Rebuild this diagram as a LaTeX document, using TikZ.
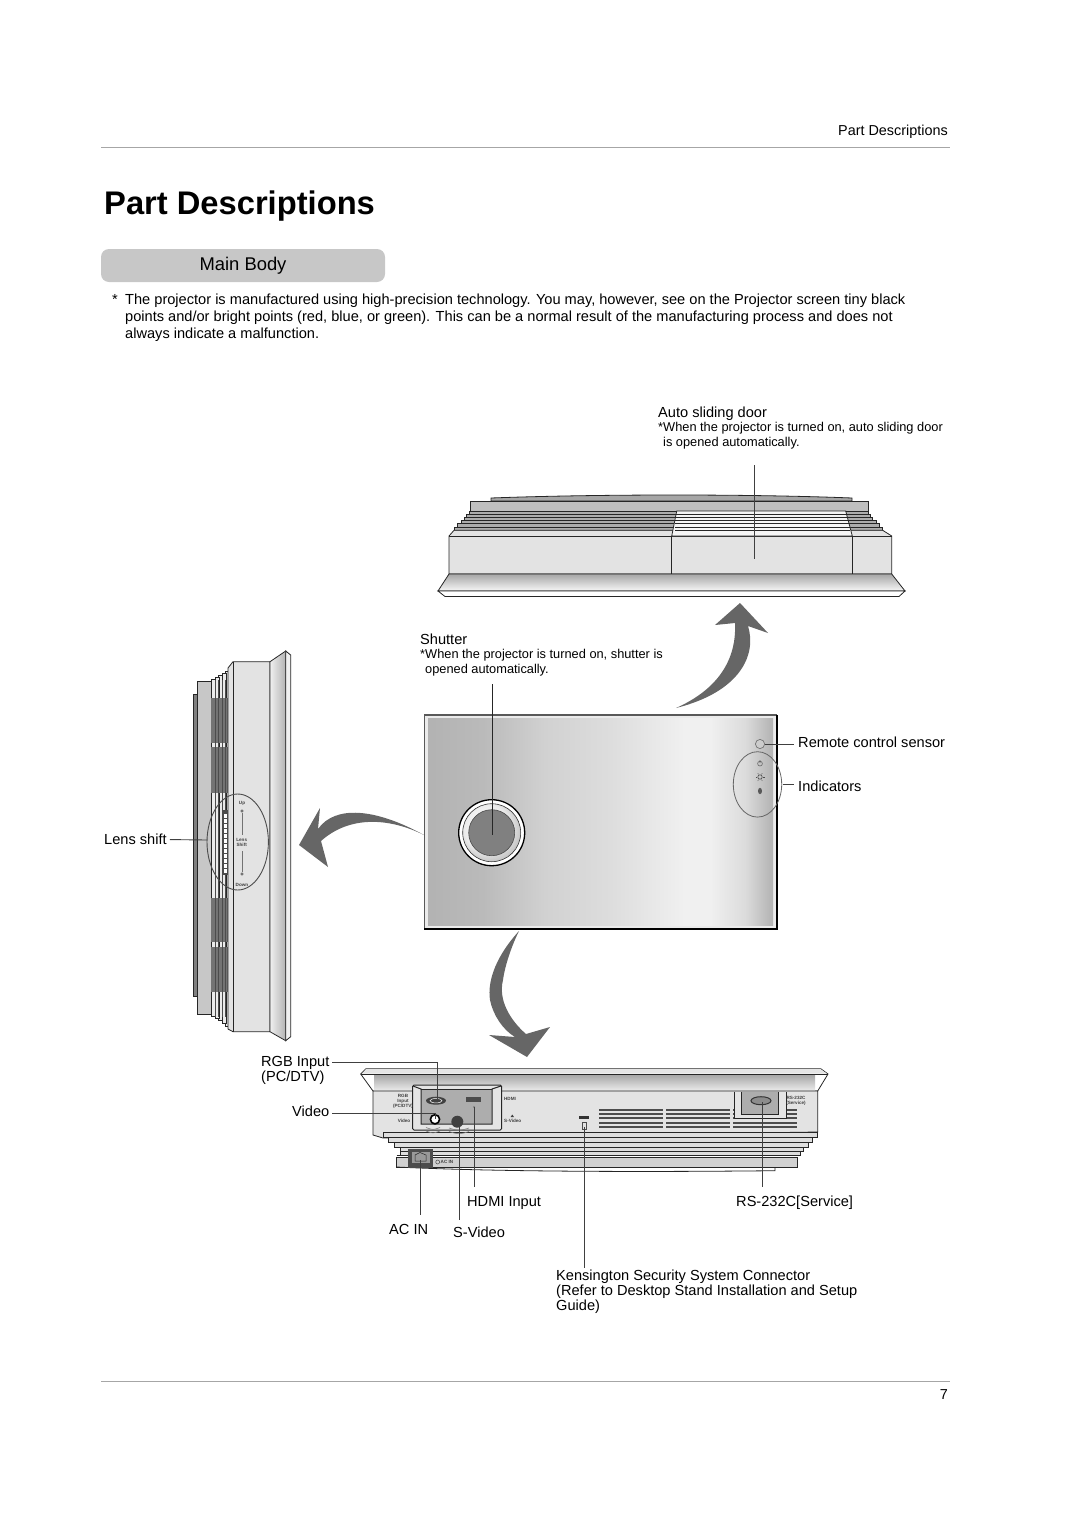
\documentclass[tikz,border=0pt]{standalone}
\usepackage{fontspec}
\setmainfont{Liberation Sans}
\usetikzlibrary{positioning}
\pgfdeclarehorizontalshading{panelshade}{100bp}{color(0bp)=(black!30); color(25bp)=(black!30); color(33bp)=(black!27); color(42bp)=(black!18); color(52bp)=(black!13); color(62bp)=(black!6); color(66bp)=(black!6); color(71bp)=(black!14); color(75bp)=(black!30); color(100bp)=(black!30)}
\pgfdeclareradialshading{lensshade}{\pgfpoint{-8bp}{8bp}}{color(0bp)=(white); color(20bp)=(black!8); color(30bp)=(black!25); color(50bp)=(black!35)}

\begin{document}
\begin{tikzpicture}[x=1pt, y=-1pt,
        label/.style={anchor=north west, inner sep=0pt, align=left, font=\fontsize{14.6}{15}\selectfont},
        note/.style={anchor=north west, inner sep=0pt, align=left, font=\fontsize{12.8}{15}\selectfont},
        tiny/.style={inner sep=0pt, align=center, text=black!75, font=\fontsize{4.6}{5}\selectfont\bfseries},
        part/.style={draw=black!85, line width=0.8pt},
        leader/.style={draw=black!75, line width=0.9pt},
        rulerline/.style={draw=black!35, line width=0.9pt},
        turn/.style={fill=black!60, draw=none},
        vent/.style={draw=black!70, line width=2.2pt},
        port/.style={draw=black!80, fill=black!55, line width=1pt}
    ]
        \useasboundingbox (0,0) rectangle (1080,1528);

        % Page head and foot
        \node[anchor=base east, inner sep=0pt, font=\fontsize{14.4}{15}\selectfont] (headtext) at (948,135) {Part Descriptions};
        \coordinate (headleft) at (101,147);
        \coordinate (headright) at (950,147);
        \draw[rulerline] (headleft) -- (headright);
        \node[anchor=base west, inner sep=0pt, font=\fontsize{32.7}{34}\selectfont\bfseries] (title) at (104,214) {Part Descriptions};
        \node[fill=black!22, rounded corners=8pt, minimum width=284pt, minimum height=33pt, inner sep=0pt, font=\fontsize{18.4}{19}\selectfont] (mainbody) at (243,265.5) {Main Body};
        \coordinate (footleft) at (101,1381);
        \coordinate (footright) at (950,1381);
        \draw[rulerline] (footleft) -- (footright);
        \node[anchor=base east, inner sep=0pt, font=\fontsize{14.4}{15}\selectfont] (pagenum) at (948,1399) {7};

        % Remark
        \node[anchor=base west, inner sep=0pt, font=\fontsize{14.6}{15}\selectfont] (star) at (112,304) {*};
        \node[label, font=\fontsize{14.6}{17}\selectfont] (remark) at (125,293.5) {The projector is manufactured using high-precision technology. You may, however, see on the Projector screen tiny black\\points and/or bright points (red, blue, or green). This can be a normal result of the manufacturing process and does not\\always indicate a malfunction.};

        % Top view
        \node[label] (lbldoor) at (658,407) {Auto sliding door};
        \node[note] (notedoor) at (658,422.5) {*When the projector is turned on, auto sliding door\\\hspace{5pt}is opened automatically.};
        \draw[part, fill=black!35] (491,501) -- (491,498) .. controls (600,494) and (750,494) .. (852,498) -- (852,501) -- cycle;
        \draw[part, fill=black!25] (470,501.5) rectangle (868,511);
        \foreach \xa/\xb/\ya/\yb in {454/882.7/527/530.3, 457/879.3/523.7/527, 461/876.7/520/523.7, 464/872.7/517/520, 466/870.7/514/517, 469/868/511/514} {
            \draw[draw=black!85, line width=0.6pt, fill=black!32] (\xa,\ya) rectangle (\xb,\yb);
        }
        \draw[part, fill=black!11] (449,574) -- (449,536) -- (454,530.3) -- (882.7,530.3) -- (891.7,536) -- (891.7,574) -- cycle;
        \draw[part] (449,536) -- (891.7,536);
        \draw[part, fill=black!4] (671.7,536) -- (676.7,511) -- (845.7,511) -- (852.3,536) -- cycle;
        \foreach \ya in {514, 517, 520, 523.7, 527, 530.3} {
            \draw[part] (675,\ya) -- (850,\ya);
        }
        \draw[part] (671.7,536) -- (671.7,574) (852.3,536) -- (852.3,574);
        \draw[part, top color=black!35, bottom color=black!3] (449,574) -- (891.7,574) -- (905,591) -- (438,591) -- cycle;
        \draw[part, fill=white] (438,591) -- (905,591) -- (899,596.5) -- (445,596.5) -- cycle;
        \coordinate (doortop) at (754,465);
        \coordinate (doorend) at (754,559);
        \draw[leader] (doortop) -- (doorend);

        % Turn arrows
        \fill[turn] (740,603) -- (768,633) -- (748,626) .. controls (757,655) and (740,692) .. (676,708) .. controls (712,692) and (737,665) .. (735,623) -- (715,625) -- cycle;
        \fill[turn] (299,845) -- (320,808) -- (318,829) .. controls (335,805) and (375,808) .. (424,835) .. controls (390,818) and (350,815) .. (321,841) -- (328,867) -- cycle;
        \fill[turn] (519,931) .. controls (497,955) and (487,980) .. (490,1000) .. controls (493,1015) and (503,1030) .. (515,1037) -- (489,1035) -- (527,1057) -- (550,1027) -- (526,1034) .. controls (510,1020) and (498,1000) .. (503,980) .. controls (505,965) and (512,945) .. (519,931) -- cycle;

        % Front panel
        \node[label] (lblshutter) at (420,634) {Shutter};
        \node[note] (noteshutter) at (420,649.5) {*When the projector is turned on, shutter is\\\hspace{5pt}opened automatically.};
        \fill[black!8] (424.3,715) rectangle (776.7,928.7);
        \draw[draw=black!65, line width=1.6pt] (424.3,928.7) -- (424.3,715) -- (776.7,715);
        \draw[draw=black, line width=1.8pt] (776.7,715) -- (776.7,928.7) -- (424.3,928.7);
        \fill[shading=panelshade] (428,718) rectangle (773,925);
        \fill[white] (491.7,832.7) circle (33);
        \draw[draw=black, line width=1.3pt] (491.7,832.7) circle (33);
        \draw[draw=black!80, line width=0.6pt, shading=lensshade] (491.7,832.7) circle (29);
        \draw[draw=black!70, line width=0.6pt, fill=black!50] (491.7,832.7) circle (23);
        \coordinate (shuttertop) at (492.5,684);
        \coordinate (shutterend) at (492.5,835);
        \draw[leader, draw=black!85] (shuttertop) -- (shutterend);

        % Sensor and indicators
        \draw[draw=black!55, fill=black!20, line width=0.7pt] (760,744) circle (4.6);
        \draw[draw=black!60, line width=0.8pt] (757.5,784.4) ellipse (24.2 and 32.7);
        \draw[draw=black!60, line width=0.6pt] (760,763.6) circle (2.4) (760,760) -- (760,763);
        \draw[draw=black!70, line width=0.6pt] (760,777) circle (2.2);
        \foreach \ang in {0,60,...,300} {
            \draw[draw=black!70, line width=0.4pt] (760,777) ++(\ang:3) -- ++(\ang:1.5);
        }
        \fill[black!65] (760,791) ellipse (2 and 3.2);
        \node[label] (lblsensor) at (798,737) {Remote control sensor};
        \node[label] (lblindic) at (798,781) {Indicators};
        \coordinate (sensorpt) at (765,744.3);
        \coordinate (sensorend) at (794,744.3);
        \coordinate (indicpt) at (782.7,784.3);
        \coordinate (indicend) at (793.5,784.3);
        \draw[leader] (sensorpt) -- (sensorend);
        \draw[leader] (indicpt) -- (indicend);

        % Side view
        \draw[part, fill=black!50] (193,694) rectangle (197,996);
        \draw[part, fill=black!22] (197,681) rectangle (211,1014);
        \foreach \xa/\ya/\yb in {228/668/1029, 225/671/1026, 222/673/1023, 218/675/1020, 215/677/1018, 211/679/1016} {
            \draw[part, fill=black!8] (\xa,\ya) rectangle (\xa+4,\yb);
        }
        \foreach \ya/\yb in {698/743, 747/793, 898/942, 947/992} {
            \fill[black!55] (211,\ya) rectangle (229,\yb);
        }
        \foreach \xa in {215, 218, 222, 225, 228} {
            \draw[draw=black!70, line width=0.6pt] (\xa,680) -- (\xa,1017);
        }
        \draw[part, fill=black!11] (233,661.7) -- (270,661.7) -- (270,1031.7) -- (233,1031.7) -- (228,1029) -- (228,668) -- cycle;
        \draw[part] (233,661.7) -- (233,1031.7);
        \draw[part, left color=black!6, right color=black!30] (270,661.7) -- (285.7,651) -- (285.7,1040.7) -- (270,1031.7) -- cycle;
        \draw[part, fill=black!6] (285.7,651) -- (290.7,655) -- (290.7,1036.7) -- (285.7,1040.7) -- cycle;

        % Lens shift dial
        \fill[black!70] (221.7,810) rectangle (228,875);
        \foreach \ya in {813,818,...,868} {
            \draw[draw=black!70, fill=white, line width=0.4pt] (222.7,\ya) rectangle (227,\ya+5);
        }
        \draw[draw=black!70, line width=0.9pt] (237.7,842) ellipse (30.7 and 48);
        \node[tiny] (tinyup) at (242,803) {Up};
        \node[tiny] (tinylens) at (241.7,842.7) {Lens\\Shift};
        \node[tiny] (tinydown) at (242,885) {Down};
        \draw[draw=black!70, line width=0.5pt] (242,811) circle (1.2) (242,874) circle (1.2);
        \draw[draw=black!55, line width=0.6pt] (242,813) -- (242,835) (242,851) -- (242,872);
        \node[label] (lbllens) at (104,834) {Lens shift};
        \coordinate (lensend) at (207,840);
        \draw[leader] ([xshift=3pt]lbllens.east) -- (lensend);

        % Rear view, housing
        \draw[part, fill=white] (366,1068.7) -- (820.7,1068.7) -- (828,1074) -- (817.7,1091) -- (373,1091) -- (360.7,1074) -- cycle;
        \fill[black!10] (366,1069.2) -- (820.7,1069.2) -- (827,1073.6) -- (361.7,1073.6) -- cycle;
        \fill[top color=black!35, bottom color=black!8] (374,1074.5) rectangle (815,1090.5);
        \draw[part] (360.7,1074) -- (828,1074);
        \draw[part, fill=black!11] (373,1091) -- (817.7,1091) -- (817.7,1132) -- (383,1138) -- (373,1135) -- cycle;
        \foreach \xa/\xb/\ya/\yb in {383/817/1132/1137, 388/812/1137/1142, 394/808/1142/1147, 400/803/1147/1151, 400/800/1151/1155} {
            \draw[part, fill=black!13] (\xa,\ya) rectangle (\xb,\yb);
        }
        \draw[part, fill=black!18] (396.7,1157) -- (797,1157) -- (797,1167) -- (396.7,1167) -- cycle;
        \draw[part] (396.7,1155) -- (800,1155);
        \draw[part] (396.7,1167) .. controls (500,1172) and (650,1172) .. (775,1170.7) -- (775,1167);

        % Rear view, left recess
        \draw[part, line width=1pt, rounded corners=1.5pt, fill=black!10] (412.5,1085) rectangle (501.7,1130);
        \fill[black!32] (421,1089) rectangle (492,1124);
        \draw[part, line width=1pt] (413,1086) -- (421,1089) -- (421,1124) -- (492,1124) -- (492,1089) -- (501,1086);
        \draw[part, line width=1pt] (421,1089) -- (492,1089);
        \fill[black!75] (436,1100.7) ellipse (10 and 4);
        \draw[draw=white, line width=0.5pt] (436,1100.7) ellipse (6 and 2.2);
        \fill[black!70] (466,1096.7) rectangle (480.7,1102.3);
        \fill[black!50] (474,1107) circle (1.2);
        \draw[draw=black, fill=white, line width=1.6pt] (435,1119.3) circle (4.6);
        \fill[black!75] (457.3,1121.7) circle (6);
        \foreach \ya in {1127.5, 1131} {
            \draw[draw=black!50, line width=0.6pt] (426,\ya) .. controls (433,\ya+2.5) .. (440,\ya);
        }
        \foreach \ya in {1128, 1131.5} {
            \draw[draw=black!50, line width=0.6pt] (449,\ya) .. controls (459,\ya+3) .. (469,\ya);
        }
        \node[tiny] (tinyrgb) at (403,1101) {RGB\\Input\\(PC/DTV)};
        \node[tiny] (tinyvideo) at (404,1121) {Video};
        \node[tiny] (tinyhdmi) at (510,1099.3) {HDMI};
        \node[tiny] (tinysvideo) at (512.7,1121) {S-Video};
        \fill[black!75] (512.3,1114.5) -- (514,1117) -- (510.6,1117) -- cycle;

        % Rear view, power inlet
        \fill[black!70] (407.7,1149.3) rectangle (433.3,1168.3);
        \fill[black!40] (411.7,1151.7) rectangle (430,1163.3);
        \draw[draw=black!85, line width=0.5pt] (415,1161) -- (415,1155) -- (420,1152.5) -- (426,1155) -- (426,1161) -- cycle;
        \draw[draw=black!70, line width=0.5pt] (437.7,1162) circle (2);
        \node[tiny] (tinyac) at (447,1161.7) {AC IN};

        % Rear view, lock and vents
        \fill[black!80] (579.3,1116.3) rectangle (588.7,1119);
        \draw[draw=black!70, line width=0.5pt] (582.5,1122.5) rectangle (586,1129);
        \foreach \ya in {1110, 1114, 1118.3, 1122.7, 1127} {
            \draw[vent] (599,\ya) -- (662.7,\ya);
            \draw[vent] (666,\ya) -- (730,\ya);
            \draw[vent] (733.3,\ya) -- (796.7,\ya);
        }

        % Rear view, right recess
        \draw[part, fill=black!10] (734,1091.7) -- (734,1118.3) -- (786.7,1118.3) -- (786.7,1091.7);
        \fill[black!32] (741.7,1091.7) rectangle (778.3,1114.3);
        \draw[part] (741.7,1091.7) -- (741.7,1114.3) -- (778.3,1114.3) -- (778.3,1091.7);
        \draw[draw=black!80, fill=black!45, line width=1pt] (761,1100.7) ellipse (10 and 4);
        \node[tiny] (tinyrs) at (796,1101) {RS-232C\\(Service)};

        % Rear view labels
        \node[label] (lblrgb) at (261,1056) {RGB Input\\(PC/DTV)};
        \node[label] (lblvideo) at (292,1106) {Video};
        \node[label] (lblhdmi) at (467,1196) {HDMI Input};
        \node[label] (lblac) at (389,1224) {AC IN};
        \node[label] (lblsvideo) at (453,1227) {S-Video};
        \node[label] (lblrs) at (736,1196) {RS-232C[Service]};
        \node[label] (lblkens) at (556,1270) {Kensington Security System Connector\\(Refer to Desktop Stand Installation and Setup\\Guide)};

        % Leaders of the rear view
        \coordinate (rgbstart) at (332,1062.3);
        \coordinate (rgbport) at (437.7,1101.7);
        \coordinate (videostart) at (332,1113.3);
        \coordinate (videoport) at (435,1119);
        \coordinate (hdmiport) at (474.3,1107);
        \coordinate (hdmiend) at (474.3,1187);
        \coordinate (svideoport) at (459,1123);
        \coordinate (svideoend) at (459,1220);
        \coordinate (acport) at (420.7,1160);
        \coordinate (acend) at (420.7,1215);
        \coordinate (kensport) at (584.3,1127);
        \coordinate (kensend) at (584.3,1268);
        \coordinate (rsport) at (762.7,1102);
        \coordinate (rsend) at (762.7,1187);
        \draw[leader] (rgbstart) -| (rgbport);
        \draw[leader] (videostart) -| (videoport);
        \draw[leader] (hdmiport) -- (hdmiend);
        \draw[leader] (svideoport) -- (svideoend);
        \draw[leader] (acport) -- (acend);
        \draw[leader] (kensport) -- (kensend);
        \draw[leader] (rsport) -- (rsend);

    \end{tikzpicture}
\end{document}
